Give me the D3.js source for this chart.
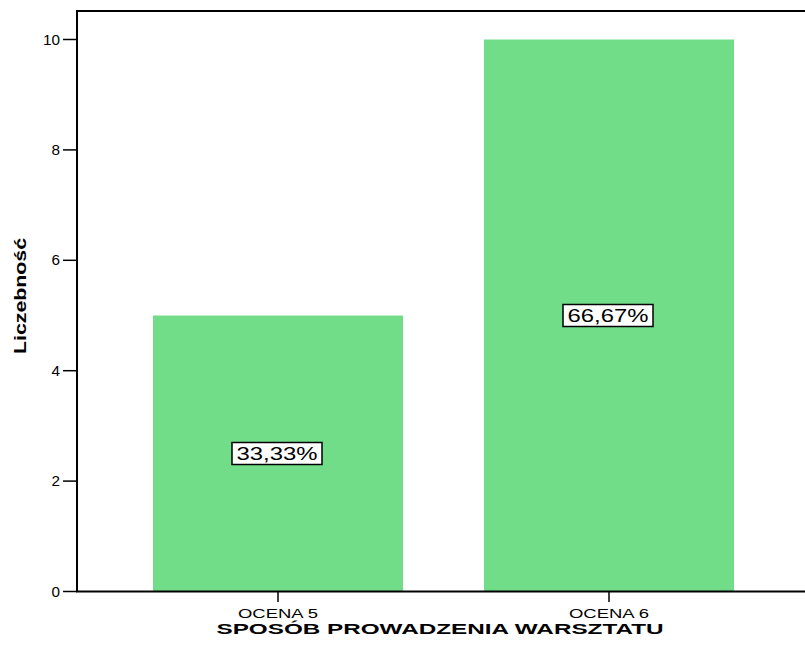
<html>

<head>
    <script src="https://d3js.org/d3.v7.min.js"></script>
    <style>
        body { margin: 0; background: #fff; }
        text { font-family: Arial, "Liberation Sans", sans-serif; fill: #000; }
    </style>
</head>

<body>
    <svg id="chart" width="805" height="648"></svg>
    <script>
        // data
        var categories = ["OCENA 5", "OCENA 6"];
        var counts = [5, 10];
        var percentLabels = ["33,33%", "66,67%"];
        var yTicks = [0, 2, 4, 6, 8, 10];

        var svg = d3.select("#chart");
        var plotLeft = 77, plotTop = 11, plotRight = 805, plotBottom = 591.5;

        var y = d3.scaleLinear()
            .domain([0, 10])
            .range([plotBottom, 39.5]);

        var x = d3.scaleBand()
            .domain(categories)
            .range([72, 815])
            .padding(0.2447);

        // bars
        svg.selectAll("rect.bar")
            .data(categories)
            .enter()
            .append("rect")
            .attr("class", "bar")
            .attr("x", (d) => x(d))
            .attr("y", (d, i) => y(counts[i]))
            .attr("width", x.bandwidth())
            .attr("height", (d, i) => plotBottom - y(counts[i]))
            .attr("fill", "#72dd88");

        // frame
        svg.append("path")
            .attr("d", "M" + plotRight + "," + plotTop + "H" + plotLeft + "V" + plotBottom + "H" + plotRight)
            .attr("fill", "none")
            .attr("stroke", "#000")
            .attr("stroke-width", 2);

        // y axis ticks
        var yg = svg.append("g");
        yg.selectAll("line")
            .data(yTicks)
            .enter()
            .append("line")
            .attr("x1", 63).attr("x2", plotLeft)
            .attr("y1", (d) => y(d)).attr("y2", (d) => y(d))
            .attr("stroke", "#000").attr("stroke-width", 1.5);
        yg.selectAll("text")
            .data(yTicks)
            .enter()
            .append("text")
            .attr("x", 60)
            .attr("y", (d) => y(d) + 5)
            .attr("text-anchor", "end")
            .attr("font-size", 14)
            .attr("textLength", (d) => d >= 10 ? 17 : 8.5)
            .attr("lengthAdjust", "spacingAndGlyphs")
            .text((d) => d);

        // x axis ticks
        var xg = svg.append("g");
        xg.selectAll("line")
            .data(categories)
            .enter()
            .append("line")
            .attr("x1", (d) => x(d) + x.bandwidth() / 2)
            .attr("x2", (d) => x(d) + x.bandwidth() / 2)
            .attr("y1", plotBottom).attr("y2", 602)
            .attr("stroke", "#000").attr("stroke-width", 1.5);
        xg.selectAll("text")
            .data(categories)
            .enter()
            .append("text")
            .attr("x", (d) => x(d) + x.bandwidth() / 2)
            .attr("y", 618)
            .attr("text-anchor", "middle")
            .attr("font-size", 12.5)
            .attr("textLength", 80)
            .attr("lengthAdjust", "spacingAndGlyphs")
            .text((d) => d);

        // value labels
        var lab = svg.selectAll("g.lab")
            .data(categories)
            .enter()
            .append("g")
            .attr("class", "lab")
            .attr("transform", (d, i) => "translate(" + (x(d) + x.bandwidth() / 2 - 1) + "," + y(counts[i] / 2) + ")");
        lab.append("rect")
            .attr("x", -45).attr("y", -11)
            .attr("width", 90).attr("height", 22)
            .attr("fill", "#fff")
            .attr("stroke", "#000")
            .attr("stroke-width", 1.5);
        lab.append("text")
            .attr("y", 6.5)
            .attr("text-anchor", "middle")
            .attr("font-size", 18)
            .attr("textLength", 81)
            .attr("lengthAdjust", "spacingAndGlyphs")
            .text((d, i) => percentLabels[i]);

        // axis titles
        svg.append("text")
            .attr("x", 440)
            .attr("y", 634)
            .attr("text-anchor", "middle")
            .attr("font-size", 14.5)
            .attr("font-weight", "bold")
            .attr("textLength", 447)
            .attr("lengthAdjust", "spacingAndGlyphs")
            .text("SPOSÓB PROWADZENIA WARSZTATU");

        svg.append("text")
            .attr("transform", "translate(26,296) rotate(-90)")
            .attr("text-anchor", "middle")
            .attr("font-size", 16)
            .attr("font-weight", "bold")
            .attr("textLength", 116)
            .attr("lengthAdjust", "spacingAndGlyphs")
            .text("Liczebność");
    </script>
</body>

</html>
